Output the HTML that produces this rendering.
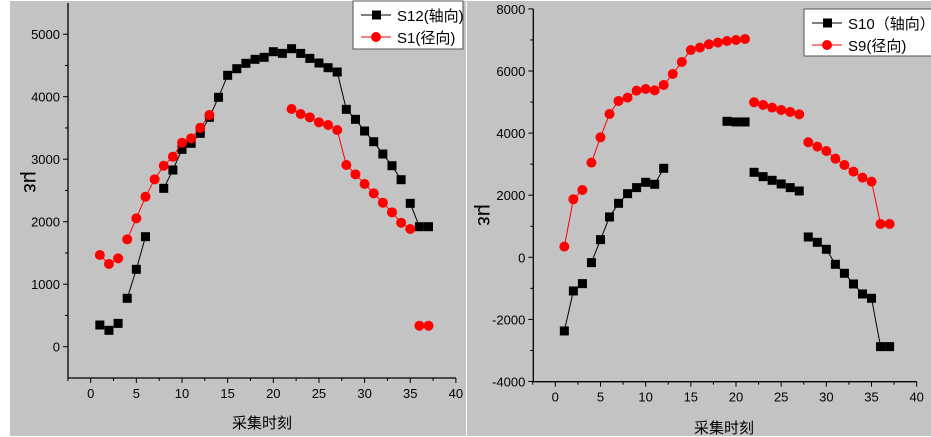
<!DOCTYPE html>
<html><head><meta charset="utf-8"><style>
html,body{margin:0;padding:0;background:#fff;width:931px;height:437px;overflow:hidden}
svg text{font-family:"Liberation Sans","Noto Sans CJK SC",sans-serif;fill:#000}
</style></head><body>
<svg id="s" width="931" height="437" xmlns="http://www.w3.org/2000/svg">
<rect x="10" y="1" width="456" height="435" fill="#c3c3c3"/>
<rect x="467" y="1" width="464" height="435" fill="#c3c3c3"/>
</svg>
<script>
const S=document.getElementById('s');const NS='http://www.w3.org/2000/svg';
function el(t,a,txt){const e=document.createElementNS(NS,t);for(const k in a)e.setAttribute(k,a[k]);if(txt!=null)e.textContent=txt;S.appendChild(e);return e;}
function chart(o){
 const X=v=>o.x0+v*o.xs, Y=v=>o.y0-v*o.ys;
 el('line',{x1:o.ax,y1:o.top,x2:o.ax,y2:o.bot,stroke:'#000','stroke-width':1.3});
 el('line',{x1:o.ax,y1:o.bot,x2:X(40),y2:o.bot,stroke:'#000','stroke-width':1.3});
 for(let v=-2.5;v<=40;v+=2.5){const x=X(v);if(x<o.ax-1)continue;const big=v%5==0;
  el('line',{x1:x,y1:o.bot,x2:x,y2:o.bot+(big?5:3),stroke:'#000'});
  if(big)el('text',{x:x,y:o.bot+20,'font-size':13,'text-anchor':'middle'},v);}
 for(let v=o.ymin;v<=o.ymax;v+=o.ystep/2){const y=Y(v);const big=Math.round(v/o.ystep)*o.ystep==v;
  el('line',{x1:o.ax,y1:y,x2:o.ax-(big?5:3),y2:y,stroke:'#000'});
  if(big)el('text',{x:o.ax-8,y:y+5,'font-size':13,'text-anchor':'end'},v);}
 el('text',{x:o.xlx,y:o.xly,'font-size':15,'text-anchor':'middle',fill:'#222'},'采集时刻');
 el('text',{x:o.ylx,y:o.yly,'font-size':21,'text-anchor':'middle',transform:`rotate(90 ${o.ylx} ${o.yly})`},'με');
 for(const s of o.series){
  for(const seg of s.segs){let p=[];for(let i=seg[0];i<=seg[1];i++)if(s.d[i]!=null)p.push(X(i)+','+Y(s.d[i]));
   if(p.length>1)el('polyline',{points:p.join(' '),fill:'none',stroke:s.c,'stroke-width':1});}
  for(const k in s.d){const x=X(+k),y=Y(s.d[k]);
   if(s.sq)el('rect',{x:x-4.5,y:y-4.5,width:9,height:9,fill:'#000'});
   else el('circle',{cx:x,cy:y,r:5,fill:'#f00'});}
 }
 const L=o.leg;el('rect',{x:L.x,y:L.y,width:L.w,height:L.h,fill:'#fff',stroke:'#555'});
 L.items.forEach((it,i)=>{const y=L.y+14+i*22;
  el('line',{x1:L.x+8,y1:y,x2:L.x+38,y2:y,stroke:it.c});
  if(it.sq)el('rect',{x:L.x+19,y:y-4.5,width:9,height:9,fill:'#000'});else el('circle',{cx:L.x+23,cy:y,r:5,fill:'#f00'});
  el('text',{x:L.x+44,y:y+6,'font-size':15},it.t);});
}
function arr(a){const d={};a.forEach((v,i)=>{if(v!=null)d[i+1]=v});return d;}
const s12=arr([347,262,373,774,1238,1760,null,2534,2827,3158,3254,3414,3670,3990,4342,4448,4534,4598,4630,4720,4693,4768,4693,4613,4539,4464,4395,3798,3638,3451,3280,3083,2896,2672,2294,1920,1920]);
const s1=arr([1467,1323,1414,1718,2054,2400,2678,2896,3040,3264,3334,3504,3707,null,null,null,null,null,null,null,null,3803,3723,3670,3590,3547,3467,2907,2758,2603,2454,2304,2150,1984,1883,336,336]);
chart({x0:90.7,xs:9.13,y0:346.7,ys:0.0625,ax:68,top:3,bot:378,ymin:0,ymax:5000,ystep:1000,
 xlx:262,xly:428,ylx:24,yly:182,
 series:[{d:s12,sq:1,c:'#000',segs:[[4,6],[8,34],[35,37]]},{d:s1,c:'#f00',segs:[[1,3],[4,13],[22,35]]}],
 leg:{x:353,y:1,w:110,h:48,items:[{t:'S12(轴向)',sq:1,c:'#000'},{t:'S1(径向)',c:'#f00'}]}});
const s9=arr([344,1868,2168,3049,3865,4616,5035,5142,5368,5421,5378,5550,5904,6291,6677,6752,6860,6914,6967,6999,7031,4992,4906,4820,4745,4681,4605,3704,3564,3424,3177,2973,2759,2566,2437,1074,1074]);
const s10=arr([-2372,-1084,-848,-172,569,1299,1739,2050,2244,2415,2351,2866,null,null,null,null,null,null,4380,4359,4359,2737,2598,2480,2362,2244,2136,655,483,258,-225,-515,-859,-1181,-1320,-2877,-2877]);
chart({x0:555.3,xs:9.035,y0:257.3,ys:0.03105,ax:533.3,top:9,bot:381.7,ymin:-4000,ymax:8000,ystep:2000,
 xlx:724,xly:433,ylx:478,yly:215,
 series:[{d:s10,sq:1,c:'#000',segs:[[1,3],[4,12],[28,37]]},{d:s9,c:'#f00',segs:[[1,3],[4,21],[28,37]]}],
 leg:{x:804,y:9,w:130,h:47,items:[{t:'S10（轴向）',sq:1,c:'#000'},{t:'S9(径向)',c:'#f00'}]}});
</script>
</body></html>
